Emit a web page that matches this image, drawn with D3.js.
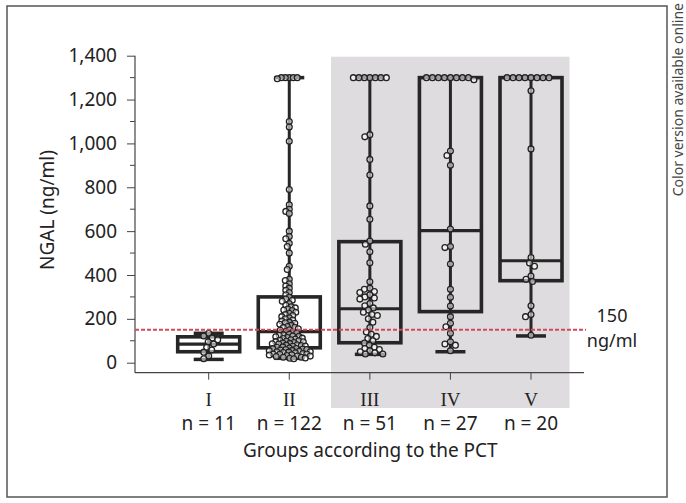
<!DOCTYPE html>
<html>
<head>
<meta charset="utf-8">
<script src="https://cdn.jsdelivr.net/npm/d3@7"></script>
<style>
  html, body { margin: 0; padding: 0; background: #fff; }
  svg { display: block; }
  text { font-family: "Noto Sans", "DejaVu Sans", sans-serif; fill: #222; }
</style>
</head>
<body>
<svg id="chart" width="686" height="503"></svg>
<script>
// ---------- data ----------
const groups = ["I", "II", "III", "IV", "V"];
const nLabels = ["n = 11", "n = 122", "n = 51", "n = 27", "n = 20"];
const whiskerLow  = [15, 20, 38, 50, 122];
const q1          = [50, 68, 91, 233, 374];
const medians     = [85, 142, 246, 602, 465];
const q3          = [118, 300, 552, 1300, 1300];
const whiskerHigh = [134, 1300, 1300, 1300, 1300];
const yTicks = [0, 200, 400, 600, 800, 1000, 1200, 1400];
const yMinorTicks = [100, 300, 500, 700, 900, 1100, 1300];
const cutoff = 150;
const cutoffLabel = ["150", "ng/ml"];
const shadedGroups = ["III", "IV", "V"];

const ngalI = [18, 30, 48, 58, 70, 85, 95, 105, 113, 122, 134];
const ngalII = [
  1295, 1300, 1300, 1300, 1300, 1300,
  1100, 1075, 1010, 790, 720, 700, 690, 680,
  600, 575, 565, 545, 530, 500,
  440, 425, 380, 375, 360, 350, 340, 330, 320, 310,
  18, 20, 22, 25, 25, 28, 30, 30, 33, 35, 36, 38, 40, 40, 42,
  45, 46, 48, 50, 50, 52, 55, 56, 58, 60, 60, 62, 64, 65, 67,
  70, 72, 75, 76, 78, 80, 82, 85, 86, 88, 90, 92, 95, 96, 98,
  100, 102, 105, 108, 110, 112, 115, 118, 120, 122, 125, 128, 130, 135, 140, 142,
  148, 150, 155, 160, 162, 165, 170, 175, 180, 182, 185, 190, 195, 200, 205,
  210, 215, 220, 225, 230, 238, 240, 245, 250, 255, 262, 270, 280, 285, 290, 298
];
const ngalIII = [
  1300, 1300, 1300, 1300, 1300, 1300, 1300,
  1040, 1030, 927, 856, 715, 654, 555, 540, 506, 456, 369,
  340, 335, 325, 320, 310, 300, 295, 290, 270, 260,
  250, 240, 230, 220, 215, 200, 185,
  160, 140, 130, 120, 110, 100, 90, 80,
  70, 65, 60, 55, 50, 45, 40, 40
];
const ngalIV = [
  1290, 1300, 1300, 1300, 1300, 1300, 1300, 1300, 1300,
  965, 945, 900, 610, 530, 525, 450, 335, 298, 258, 210, 180,
  164, 134, 95, 85, 80, 55
];
const ngalV = [
  1300, 1300, 1300, 1300, 1300, 1300, 1300, 1300,
  1240, 975, 480, 455, 440, 395, 380, 370, 260, 220, 210, 125
];
const groupValues = [ngalI, ngalII, ngalIII, ngalIV, ngalV];

// ---------- layout ----------
const svg = d3.select("#chart");
const y = d3.scaleLinear().domain([0, 1400]).range([362.7, 55.7]);
const x = d3.scalePoint().domain(groups).range([208.7, 531]);
const axisY = 372.7;
const axisX0 = 135, axisX1 = 584;
const boxW = 62, capW = 30;
const ink = "#262626";

// outer frame
svg.append("rect").attr("x", 7).attr("y", 6).attr("width", 660).attr("height", 491)
  .attr("fill", "none").attr("stroke", "#555").attr("stroke-width", 1.5);

// side note
svg.append("text")
  .attr("transform", "translate(683,3) rotate(-90)")
  .attr("text-anchor", "end")
  .style("font-size", "14px").style("fill", "#444")
  .text("Color version available online");

// shaded region
const sx0 = (x("II") + x("III")) / 2 + 1.5;
const sx1 = x(shadedGroups[shadedGroups.length - 1]) + 38.5;
svg.append("rect").attr("x", sx0).attr("y", y(1400) + 1)
  .attr("width", sx1 - sx0).attr("height", 408 - y(1400) - 1)
  .attr("fill", "#dedcde");

// y axis
const yAxisG = svg.append("g").attr("transform", `translate(${axisX0},0)`);
yAxisG.call(d3.axisLeft(y).tickValues(yTicks).tickSize(8).tickPadding(10)
  .tickFormat(d3.format(",")))
  .call(g => g.select(".domain").remove());
yAxisG.selectAll(".tick line").attr("stroke", "#444");
yAxisG.selectAll(".tick text").style("font-size", "19px").style("font-family", "'Noto Sans', sans-serif").attr("fill", "#222");
yAxisG.selectAll(".minor").data(yMinorTicks).enter().append("line")
  .attr("x1", -5).attr("x2", 0).attr("y1", d => y(d)).attr("y2", d => y(d))
  .attr("stroke", "#444");
yAxisG.append("line").attr("x1", 0).attr("x2", 0).attr("y1", y(1400)).attr("y2", axisY)
  .attr("stroke", "#444").attr("stroke-width", 1.2);

// x axis
svg.append("line").attr("x1", axisX0).attr("x2", axisX1).attr("y1", axisY).attr("y2", axisY)
  .attr("stroke", "#444").attr("stroke-width", 1.2);
svg.selectAll(".xtick").data(groups).enter().append("line")
  .attr("x1", d => x(d)).attr("x2", d => x(d)).attr("y1", axisY).attr("y2", axisY + 7)
  .attr("stroke", "#444");
svg.selectAll(".roman").data(groups).enter().append("text")
  .attr("x", d => x(d)).attr("y", 405.5).attr("text-anchor", "middle")
  .style("font-family", "'Liberation Serif', serif").style("font-size", "19px")
  .text(d => d);
svg.selectAll(".nlab").data(groups).enter().append("text")
  .attr("x", d => x(d)).attr("y", 429.5).attr("text-anchor", "middle")
  .style("font-size", "19px")
  .text((d, i) => nLabels[i]);
svg.append("text").attr("x", (x("I") + x("V")) / 2 + 0.5).attr("y", 456.7)
  .attr("text-anchor", "middle").style("font-size", "19px")
  .text("Groups according to the PCT");

// y title
svg.append("text").attr("transform", "translate(53.5,210) rotate(-90)")
  .attr("text-anchor", "middle").style("font-size", "19px")
  .text("NGAL (ng/ml)");

// boxes & whiskers
groups.forEach((g, i) => {
  const cx = x(g);
  const G = svg.append("g");
  G.append("line").attr("x1", cx).attr("x2", cx)
    .attr("y1", y(whiskerLow[i])).attr("y2", y(whiskerHigh[i]))
    .attr("stroke", ink).attr("stroke-width", 3);
  [whiskerLow[i], whiskerHigh[i]].forEach(v => {
    G.append("line").attr("x1", cx - capW / 2).attr("x2", cx + capW / 2)
      .attr("y1", y(v)).attr("y2", y(v))
      .attr("stroke", ink).attr("stroke-width", 3.5);
  });
  G.append("rect").attr("x", cx - boxW / 2).attr("y", y(q3[i]))
    .attr("width", boxW).attr("height", y(q1[i]) - y(q3[i]))
    .attr("fill", "none").attr("stroke", ink).attr("stroke-width", 3.6);
  G.append("line").attr("x1", cx - boxW / 2).attr("x2", cx + boxW / 2)
    .attr("y1", y(medians[i])).attr("y2", y(medians[i]))
    .attr("stroke", ink).attr("stroke-width", 3.2);
});

// beeswarm dots
const r = 2.9;
const minDist = [5.6, 3.8, 5.4, 5.6, 5.6];
function swarm(values, minD) {
  const sorted = values.slice().sort((a, b) => b - a);
  const placed = [];
  sorted.forEach(v => {
    const yy = y(v);
    let best = 0;
    for (let k = 0; k < 400; k++) {
      const off = (k % 2 === 0 ? 1 : -1) * Math.ceil(k / 2) * 0.5;
      let ok = true;
      for (const p of placed) {
        const dy = p.y - yy;
        if (Math.abs(dy) >= minD) continue;
        const dx = p.dx - off;
        if (dx * dx + dy * dy < minD * minD) { ok = false; break; }
      }
      if (ok) { best = off; break; }
    }
    placed.push({ v, y: yy, dx: best });
  });
  return placed;
}
groups.forEach((g, i) => {
  const pts = swarm(groupValues[i], minDist[i]);
  svg.append("g").selectAll("circle").data(pts).enter().append("circle")
    .attr("cx", d => x(g) + d.dx).attr("cy", d => d.y).attr("r", r)
    .attr("fill", "#fff").attr("fill-opacity", 0.55)
    .attr("stroke", "#222").attr("stroke-width", 1.3);
});

// cutoff line
svg.append("line").attr("x1", axisX0).attr("x2", 586)
  .attr("y1", y(cutoff)).attr("y2", y(cutoff))
  .attr("stroke", "#d4485c").attr("stroke-width", 2)
  .attr("stroke-dasharray", "4,2");
svg.append("text").attr("x", 612).attr("y", 321.5).attr("text-anchor", "middle")
  .style("font-size", "18px").text(cutoffLabel[0]);
svg.append("text").attr("x", 612).attr("y", 346.5).attr("text-anchor", "middle")
  .style("font-size", "18px").text(cutoffLabel[1]);
</script>
</body>
</html>
